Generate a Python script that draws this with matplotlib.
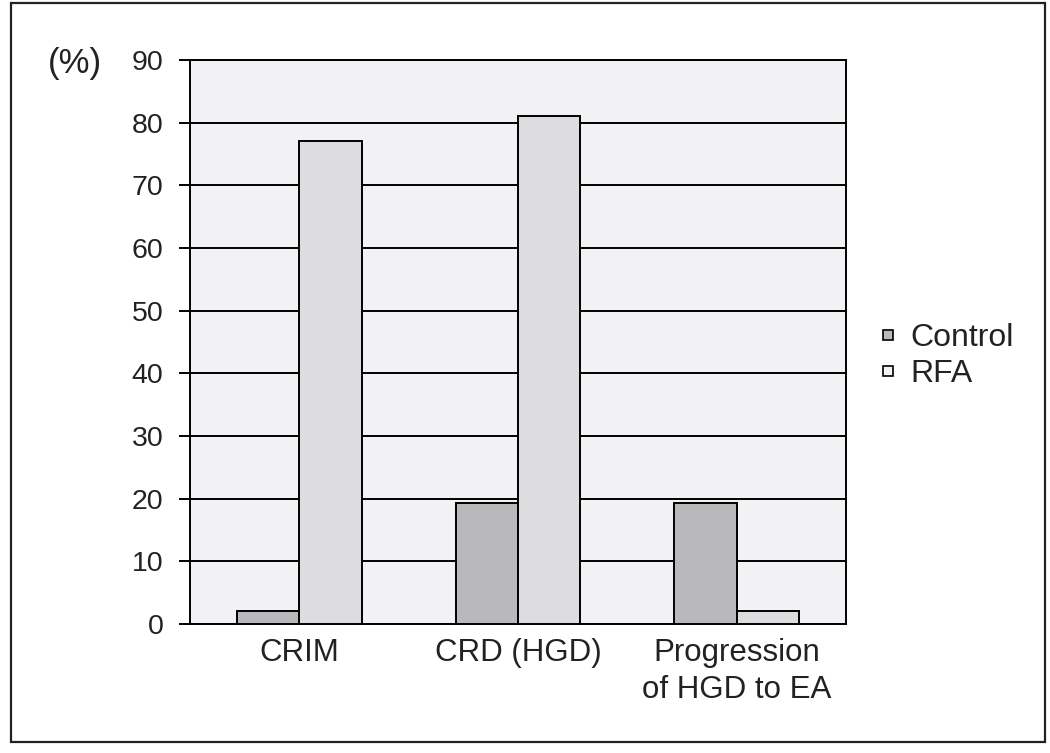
import matplotlib
matplotlib.use("Agg")
import matplotlib.pyplot as plt
from matplotlib.lines import Line2D
from matplotlib.patches import Rectangle
import numpy as np

categories = ["CRIM", "CRD (HGD)", "Progression\nof HGD to EA"]
control = [2, 19.3, 19.3]
rfa = [77, 81, 2]
yticks = [0, 10, 20, 30, 40, 50, 60, 70, 80, 90]

plt.rcParams["font.family"] = ["Liberation Sans", "DejaVu Sans"]

fig = plt.figure(figsize=(10.5, 7.53), dpi=100)
ax = fig.add_axes([190 / 1050, 1 - 624 / 753, 656 / 1050, 564 / 753])
ax.set_facecolor("#f2f2f4")

x = np.arange(len(categories)) + 0.5
w = 0.285
ax.bar(x - w / 2, control, w, color="#b9b9bb", edgecolor="black", linewidth=1.4, zorder=3)
ax.bar(x + w / 2, rfa, w, color="#dddddf", edgecolor="black", linewidth=1.4, zorder=3)

ax.set_xlim(0, 3)
ax.set_ylim(0, 90)
ax.set_yticks(yticks)
ax.set_xticks(x)
ax.set_xticklabels(categories, fontsize=22.5, color="#222222", linespacing=1.32)
ax.tick_params(axis="x", length=0, pad=10)
ax.tick_params(axis="y", length=8, width=1.4, labelsize=20.5, labelcolor="#222222", pad=11)
ax.yaxis.grid(True, color="black", linewidth=1.4, zorder=1)
for s in ax.spines.values():
    s.set_linewidth(1.4)

fig.text(75 / 1050, 1 - 63 / 753, "(%)", fontsize=25, color="#222222", ha="center", va="center")

handles = [
    Line2D([], [], marker="s", linestyle="none", markersize=7, markerfacecolor="#b9b9bb",
           markeredgecolor="black", markeredgewidth=1.2),
    Line2D([], [], marker="s", linestyle="none", markersize=7, markerfacecolor="#f4f4f4",
           markeredgecolor="black", markeredgewidth=1.2),
]
fig.legend(handles, ["Control", "RFA"], loc="center left", bbox_to_anchor=(846 / 1050, 1 - 356 / 753),
           frameon=False, fontsize=23, handletextpad=0.3, labelspacing=0.2, handlelength=0.8,
           labelcolor="#222222")

fig.add_artist(Rectangle((11 / 1050, 1 - 742 / 753), 1034 / 1050, 739 / 753, transform=fig.transFigure,
                         fill=False, edgecolor="#222222", linewidth=1.6))

fig.savefig("out.png", dpi=100)
